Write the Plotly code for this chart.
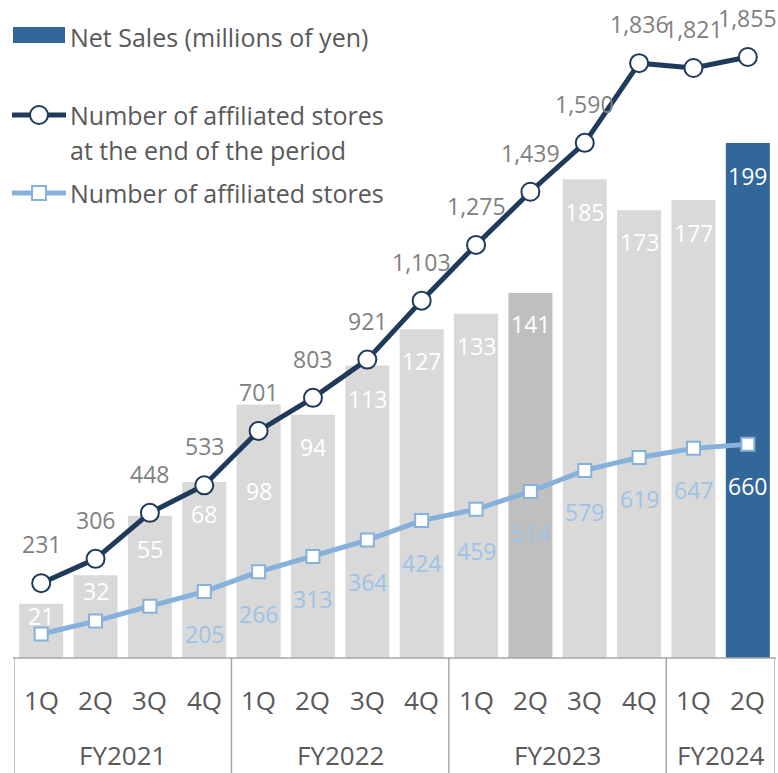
import plotly.graph_objects as go

quarters = ["1Q", "2Q", "3Q", "4Q", "1Q", "2Q", "3Q", "4Q", "1Q", "2Q", "3Q", "4Q", "1Q", "2Q"]
fiscal_years = ["FY2021", "FY2022", "FY2023", "FY2024"]
fy_quarter_counts = [4, 4, 4, 2]
net_sales = [21, 32, 55, 68, 98, 94, 113, 127, 133, 141, 185, 173, 177, 199]
stores_end = [231, 306, 448, 533, 701, 803, 921, 1103, 1275, 1439, 1590, 1836, 1821, 1855]
stores_affiliated = [74, 114, 160, 205, 266, 313, 364, 424, 459, 514, 579, 619, 647, 660]
affiliated_label_shown = [False, False, False, True, True, True, True, True, True, True, True, True, True, True]

# styles
FONT = "Open Sans"
GRAY_TEXT = "#595959"
DARK_LABEL = "#808080"
LIGHT_LABEL = "#9DC3E6"
DARK_LINE = "#1F3A5A"
LIGHT_LINE = "#85B1DB"
BAR_LIGHT = "#D9D9D9"
BAR_MID = "#BFBFBF"
BAR_BLUE = "#336699"
AXIS_GRAY = "#A6A6A6"
FS_DATA = 23
FS_TICK = 26
FS_LEG = 25

bar_colors = [BAR_LIGHT] * len(net_sales)
bar_colors[9] = BAR_MID
bar_colors[-1] = BAR_BLUE
bar_label_offsets = [12, 16, 33, 32, 87, 32, 33, 32, 32, 31, 33, 32, 33, 33]

x = list(range(len(quarters)))

fig = go.Figure()
fig.add_trace(go.Bar(x=x, y=net_sales, marker=dict(color=bar_colors, line=dict(width=0)),
                     yaxis="y", showlegend=False, hoverinfo="skip"))
fig.add_trace(go.Scatter(x=x, y=stores_affiliated, mode="lines+markers", yaxis="y2",
                         line=dict(color=LIGHT_LINE, width=5),
                         marker=dict(symbol="square", size=13, color="white",
                                     line=dict(color=LIGHT_LINE, width=2)),
                         showlegend=False, hoverinfo="skip"))
fig.add_trace(go.Scatter(x=x, y=stores_end, mode="lines+markers", yaxis="y2",
                         line=dict(color=DARK_LINE, width=5),
                         marker=dict(symbol="circle", size=18, color="white",
                                     line=dict(color=DARK_LINE, width=2)),
                         showlegend=False, hoverinfo="skip"))

ann = []
for i, v in enumerate(net_sales):
    ann.append(dict(x=i, y=v, xref="x", yref="y", text=str(v), showarrow=False,
                    yshift=-bar_label_offsets[i], yanchor="middle",
                    font=dict(family=FONT, size=FS_DATA, color="white")))
for i, v in enumerate(stores_end):
    ann.append(dict(x=i, y=v, xref="x", yref="y2", text=f"{v:,}", showarrow=False,
                    yshift=39, yanchor="middle",
                    font=dict(family=FONT, size=FS_DATA, color=DARK_LABEL)))
for i, v in enumerate(stores_affiliated):
    if not affiliated_label_shown[i]:
        continue
    col = "white" if i == len(stores_affiliated) - 1 else LIGHT_LABEL
    ann.append(dict(x=i, y=v, xref="x", yref="y2", text=f"{v:,}", showarrow=False,
                    yshift=-42, yanchor="middle",
                    font=dict(family=FONT, size=FS_DATA, color=col)))

# category axis labels
for i, q in enumerate(quarters):
    ann.append(dict(x=i, y=0, xref="x", yref="paper", text=q, showarrow=False,
                    yshift=-42, yanchor="middle",
                    font=dict(family=FONT, size=FS_TICK, color=GRAY_TEXT)))
shapes = []
start = 0
H = 648.0
def py(p):
    return (658 - p) / H
W = 761.0
def px(p):
    return (p - 14) / W

shapes.append(dict(type="line", xref="paper", yref="paper", x0=px(13), x1=px(776), y0=0, y1=0,
                   line=dict(color=AXIS_GRAY, width=1.5)))
shapes.append(dict(type="line", xref="x", yref="paper", x0=-0.5, x1=-0.5, y0=0, y1=py(773),
                   line=dict(color=AXIS_GRAY, width=1.5)))
for fy, n in zip(fiscal_years, fy_quarter_counts):
    end = start + n
    ann.append(dict(x=(start + end - 1) / 2, y=0, xref="x", yref="paper", text=fy, showarrow=False,
                    yshift=-97, yanchor="middle",
                    font=dict(family=FONT, size=FS_TICK, color=GRAY_TEXT)))
    shapes.append(dict(type="line", xref="x", yref="paper", x0=end - 0.5, x1=end - 0.5,
                       y0=0, y1=py(773), line=dict(color=AXIS_GRAY, width=1.5)))
    start = end

# legend (drawn manually)
shapes.append(dict(type="rect", xref="paper", yref="paper", x0=px(13), x1=px(65), y0=py(43), y1=py(27),
                   fillcolor=BAR_BLUE, line=dict(width=0)))
shapes.append(dict(type="line", xref="paper", yref="paper", x0=px(12), x1=px(66), y0=py(115), y1=py(115),
                   line=dict(color=DARK_LINE, width=5)))
shapes.append(dict(type="circle", xref="paper", yref="paper", xsizemode="pixel", ysizemode="pixel",
                   xanchor=px(39), yanchor=py(115), x0=-9, x1=9, y0=-9, y1=9,
                   fillcolor="white", line=dict(color=DARK_LINE, width=2)))
shapes.append(dict(type="line", xref="paper", yref="paper", x0=px(12), x1=px(66), y0=py(193), y1=py(193),
                   line=dict(color=LIGHT_LINE, width=5)))
shapes.append(dict(type="rect", xref="paper", yref="paper", xsizemode="pixel", ysizemode="pixel",
                   xanchor=px(39), yanchor=py(193), x0=-7, x1=7, y0=-7, y1=7,
                   fillcolor="white", line=dict(color=LIGHT_LINE, width=2)))
legend_texts = [("Net Sales (millions of yen)", 37), ("Number of affiliated stores", 115),
                ("at the end of the period", 150), ("Number of affiliated stores", 193)]
for t, yy in legend_texts:
    ann.append(dict(x=px(68), y=py(yy), xref="paper", yref="paper", text=t, showarrow=False,
                    xanchor="left", yanchor="middle",
                    font=dict(family=FONT, size=FS_LEG, color=GRAY_TEXT)))

fig.update_layout(
    width=778, height=773,
    margin=dict(l=14, r=3, t=10, b=115),
    paper_bgcolor="white", plot_bgcolor="white",
    bargap=0.19,
    xaxis=dict(range=[-0.5, len(quarters) - 0.5], showticklabels=False, showgrid=False,
               zeroline=False, showline=False, ticks=""),
    yaxis=dict(range=[0, 250.4], showticklabels=False, showgrid=False, zeroline=False, showline=False),
    yaxis2=dict(range=[0, 2000], overlaying="y", showticklabels=False, showgrid=False,
                zeroline=False, showline=False),
    annotations=ann, shapes=shapes, showlegend=False,
)
fig.write_html("out.html", config={"displayModeBar": False},
               post_script="document.body.style.margin='0';document.body.style.overflow='hidden';")
